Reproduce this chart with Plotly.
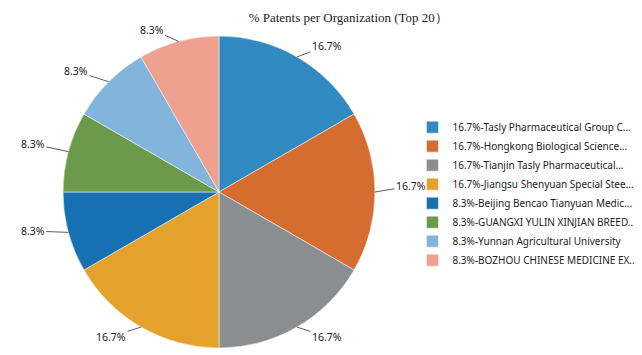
import math
import plotly.graph_objects as go

labels = [
    "16.7%-Tasly Pharmaceutical Group C...",
    "16.7%-Hongkong Biological Science...",
    "16.7%-Tianjin Tasly Pharmaceutical...",
    "16.7%-Jiangsu Shenyuan Special Stee...",
    "8.3%-Beijing Bencao Tianyuan Medic...",
    "8.3%-GUANGXI YULIN XINJIAN BREED...",
    "8.3%-Yunnan Agricultural University",
    "8.3%-BOZHOU CHINESE MEDICINE EX...",
]
values = [2, 2, 2, 2, 1, 1, 1, 1]
colors = ["#3089C0", "#D66D30", "#8A8E91", "#E4A22C", "#1670B2", "#6C9A4B", "#82B4DC", "#EEA18F"]

W, H = 642, 355
# pie geometry (figure pixels)
CX, CY, R = 211, 184, 156
dom_x = [(CX - R) / W, (CX + R) / W]
dom_y = [1 - (CY + R) / H, 1 - (CY - R) / H]

fig = go.Figure(go.Pie(
    labels=labels,
    values=values,
    sort=False,
    direction="clockwise",
    rotation=0,
    marker=dict(colors=colors, line=dict(color="white", width=0.5)),
    textinfo="none",
    domain=dict(x=dom_x, y=dom_y),
    hoverinfo="label+value",
))

# outside percentage labels with leader lines, derived from the values
total = sum(values)
cum = 0
for v in values:
    theta = math.radians(360 * (cum + v / 2) / total)
    cum += v
    sx, sy = math.sin(theta), -math.cos(theta)
    px = CX + R * sx
    py = CY + R * sy
    side = 1 if sx >= 0 else -1
    ax = 12 * sx + 24 * side
    ay = 12 * sy - 6 * (1 - abs(sy))
    fig.add_annotation(
        x=px / W, y=1 - py / H, xref="paper", yref="paper",
        text=f"{100 * v / total:.1f}%",
        showarrow=True, arrowhead=0, arrowwidth=0.8, arrowcolor="#333",
        ax=ax, ay=ay, standoff=0,
        font=dict(family="Noto Sans", size=10.5, color="#222"),
    )

fig.update_layout(
    width=W, height=H,
    margin=dict(l=0, r=0, t=0, b=0, autoexpand=False),
    paper_bgcolor="white",
    title=dict(text="% Patents per Organization (Top 20）", x=0.53, xanchor="center", y=0.972, yanchor="middle",
               font=dict(family="Liberation Serif", size=13, color="#222")),
    legend=dict(x=0.63, y=0.477, xanchor="left", yanchor="middle",
                font=dict(family="Noto Sans", size=10, color="#222"),
                itemwidth=30, tracegroupgap=0),
    showlegend=True,
)
fig.write_html("out.html")
